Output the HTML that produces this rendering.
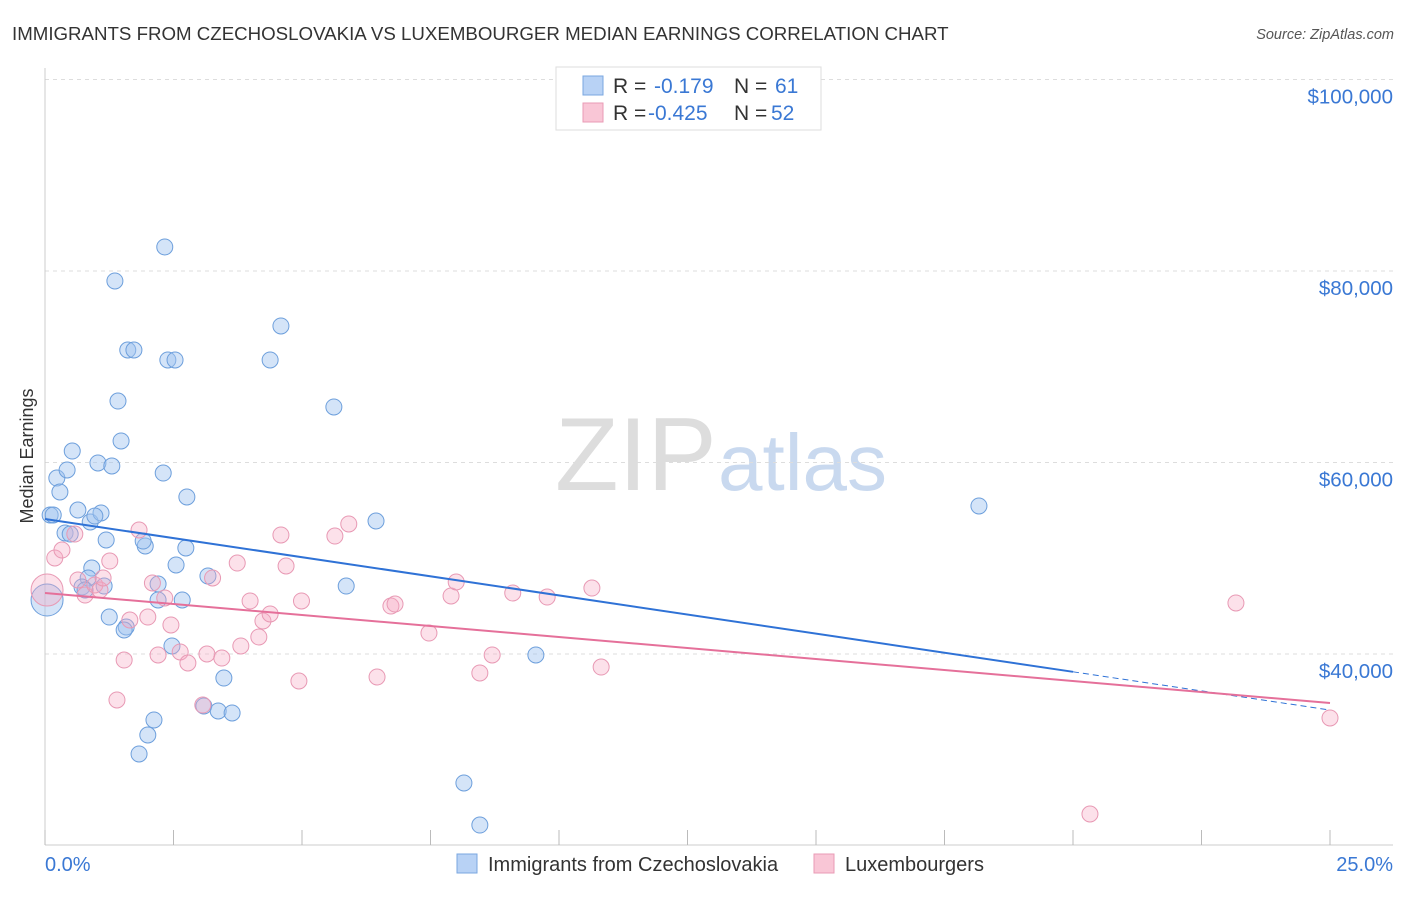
<!DOCTYPE html>
<html><head><meta charset="utf-8"><style>
body{margin:0;background:#fff;font-family:"Liberation Sans",sans-serif}
svg text{font-family:"Liberation Sans",sans-serif}
</style></head><body>
<svg id="chart" width="1406" height="892" viewBox="0 0 1406 892">
<text x="12" y="40" font-size="18.7" fill="#333">IMMIGRANTS FROM CZECHOSLOVAKIA VS LUXEMBOURGER MEDIAN EARNINGS CORRELATION CHART</text>
<text x="1394" y="39" font-size="14.5" fill="#555" text-anchor="end" font-style="italic">Source: ZipAtlas.com</text>
<text x="33" y="456" font-size="18" fill="#333" text-anchor="middle" transform="rotate(-90 33 456)">Median Earnings</text>
<text x="555" y="490" font-size="104" fill="#ddd" font-family="Liberation Serif">ZIP</text>
<text x="718" y="490" font-size="80" fill="#c9d9ef">atlas</text>
<g id="grid"></g><g id="ticks"></g><g id="pts"></g><g id="trend"></g>
<g>
<rect x="556" y="67" width="265" height="63" fill="#fff" stroke="#ddd"/>
<rect x="583" y="76" width="20" height="19" fill="#b8d2f5" stroke="#7aa7e0"/>
<rect x="583" y="103" width="20" height="19" fill="#f9c6d6" stroke="#e99bb5"/>
<text x="613" y="93" font-size="21" fill="#333">R = </text><text x="654" y="93" font-size="21" fill="#3a78d4">-0.179</text>
<text x="734" y="93" font-size="21" fill="#333">N = </text><text x="775" y="93" font-size="21" fill="#3a78d4">61</text>
<text x="613" y="120" font-size="21" fill="#333">R = </text><text x="648" y="120" font-size="21" fill="#3a78d4">-0.425</text>
<text x="734" y="120" font-size="21" fill="#333">N = </text><text x="771" y="120" font-size="21" fill="#3a78d4">52</text>
</g>
<g>
<rect x="457" y="854" width="20" height="19" fill="#b8d2f5" stroke="#7aa7e0"/>
<text x="488" y="871" font-size="20" fill="#333">Immigrants from Czechoslovakia</text>
<rect x="814" y="854" width="20" height="19" fill="#f9c6d6" stroke="#e99bb5"/>
<text x="845" y="871" font-size="20" fill="#333">Luxembourgers</text>
</g>
<text x="45" y="871" font-size="20" fill="#3a78d4">0.0%</text>
<text x="1393" y="871" font-size="20" fill="#3a78d4" text-anchor="end">25.0%</text>
</svg>
<script>
const yTicks=[40000,60000,80000,100000];
const yTickLabels=["$40,000","$60,000","$80,000","$100,000"];
const blueX=[0.04,0.10,0.16,0.23,0.29,0.43,0.53,0.64,0.39,0.49,0.88,1.09,0.97,0.91,0.84,0.72,0.78,1.15,1.19,1.25,1.03,1.30,1.36,1.42,1.48,1.58,1.61,1.73,1.83,1.95,2.00,2.12,2.20,2.20,2.30,2.33,2.39,2.53,2.55,2.67,2.74,2.76,2.47,3.09,3.17,3.37,3.48,3.64,4.38,4.59,5.62,5.86,6.44,8.15,8.46,9.55,18.17,1.91,1.54];
const blueY=[45640,54520,54520,58380,56920,59220,61200,55040,52640,52530,53790,54730,54410,48980,47940,47000,46680,47100,51910,43860,59950,59640,78960,66420,62250,42820,71750,71750,29560,51280,31540,33110,45640,47310,58900,82510,70710,70710,49300,45640,51070,56400,40840,34570,48150,34050,37490,33840,70710,74260,65800,47100,53890,26530,22140,39900,55460,51800,42510];
const pinkX=[0.04,0.19,0.33,0.58,0.64,0.78,0.97,1.07,1.13,1.26,1.40,1.54,1.65,1.83,2.00,2.09,2.20,2.33,2.45,2.63,2.78,3.07,3.15,3.26,3.44,3.74,3.81,3.99,4.16,4.24,4.38,4.59,4.69,4.94,4.99,5.64,5.91,6.46,6.73,6.81,7.47,7.90,8.00,8.46,8.70,9.10,9.77,10.64,10.82,20.33,23.17,25.00];
const pinkY=[46680,50030,50860,52530,47730,46160,47210,46680,47940,49710,35200,39370,43550,52950,43860,47420,39900,45850,43030,40210,39060,34670,40000,47940,39580,49500,40840,45540,41780,43450,44180,52430,49190,37180,45540,52320,53580,37600,45010,45220,42190,46060,47520,38020,39900,46370,45950,46890,38640,23290,45330,33320];
const blueTrend=[54100,34150];
const pinkTrend=[46370,34880];
const NS="http://www.w3.org/2000/svg";
const X=p=>45+p*(1330-45)/25;
const Y=v=>654-(v-40000)*191.5/20000;
function mk(t,a,par){const e=document.createElementNS(NS,t);for(const k in a)e.setAttribute(k,a[k]);document.getElementById(par).appendChild(e);return e;}
yTicks.forEach((v,i)=>{
 const g=mk('line',{x1:45,x2:1393,y1:Y(v),y2:Y(v),stroke:'#ddd','stroke-dasharray':'4 4'},'grid');
 
 
 const t=mk('text',{x:1393,y:Y(v)+24,'font-size':20.5,fill:'#3a78d4','text-anchor':'end'},'grid');
 t.textContent=yTickLabels[i];
 
 
});
const ax=mk('line',{x1:45,x2:1393,y1:845,y2:845,stroke:'#ccc'},'ticks');


const ay=mk('line',{x1:45,x2:45,y1:68,y2:845,stroke:'#ccc'},'ticks');


for(let i=0;i<=10;i++){
 const l=mk('line',{x1:X(i*2.5),x2:X(i*2.5),y1:830,y2:845,stroke:'#bbb'},'ticks');
 
 
}
function pts(xs,ys,fill,stroke,name){
 xs.forEach((p,i)=>{
  const c=mk('circle',{cx:X(p),cy:Y(ys[i]),r:i===0?16:8,fill:fill,stroke:stroke,'stroke-width':1},'pts');
  
  
 });
}
pts(blueX,blueY,'rgba(160,195,240,0.45)','#6d9fdc','czech-point');
pts(pinkX,pinkY,'rgba(245,170,195,0.35)','#e899b4','lux-point');
const bAt=p=>blueTrend[0]+(blueTrend[1]-blueTrend[0])*p/25;
const pAt=p=>pinkTrend[0]+(pinkTrend[1]-pinkTrend[0])*p/25;
const b1=mk('line',{x1:X(0),y1:Y(bAt(0)),x2:X(20),y2:Y(bAt(20)),stroke:'#2f72d6','stroke-width':2},'trend');


const b2=mk('line',{x1:X(20),y1:Y(bAt(20)),x2:X(25),y2:Y(bAt(25)),stroke:'#2f72d6','stroke-width':1,'stroke-dasharray':'6 4'},'trend');


const p1=mk('line',{x1:X(0),y1:Y(pAt(0)),x2:X(25),y2:Y(pAt(25)),stroke:'#e5709a','stroke-width':2},'trend');


</script>
</body></html>
